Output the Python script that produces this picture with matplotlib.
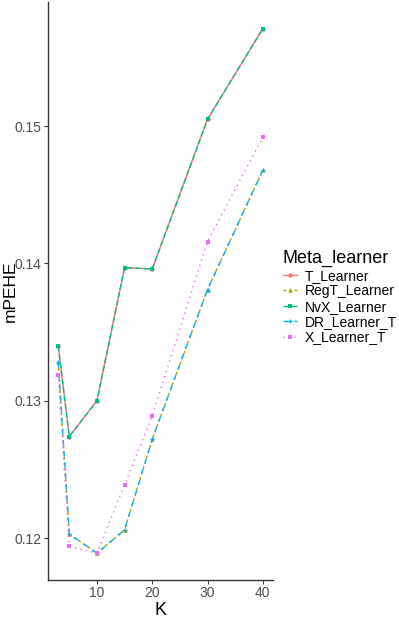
import numpy as np
import matplotlib
matplotlib.use('Agg')
import matplotlib.pyplot as plt

plt.rcParams['font.family'] = ['Liberation Sans', 'DejaVu Sans']

K = [3, 5, 10, 15, 20, 30, 40]
learners = ['T_Learner', 'RegT_Learner', 'NvX_Learner', 'DR_Learner_T', 'X_Learner_T']
t_learner = [0.1340, 0.1274, 0.1300, 0.1397, 0.1396, 0.1505, 0.1571]
regt_learner = [0.1328, 0.1203, 0.1189, 0.1206, 0.1272, 0.1381, 0.1468]
nvx_learner = [0.1340, 0.1274, 0.1300, 0.1397, 0.1396, 0.1505, 0.1571]
dr_learner = [0.1328, 0.1203, 0.1189, 0.1206, 0.1272, 0.1381, 0.1468]
x_learner = [0.1319, 0.1194, 0.1189, 0.1239, 0.1289, 0.1416, 0.1492]
yticks = [0.12, 0.13, 0.14, 0.15]
xticks = [10, 20, 30, 40]

values = [t_learner, regt_learner, nvx_learner, dr_learner, x_learner]
colors = ['#F8766D', '#A3A500', '#00BF7D', '#00B0F6', '#E76BF3']
# ggplot default linetypes / shapes
dashes = [None, (2, 2), (4, 2), (4, 4), (1, 3)]
markers = ['o', '^', 's', '+', 's']

fig = plt.figure(figsize=(3.99, 6.23), dpi=100)
ax = fig.add_axes([0.1203, 0.069, 0.564, 0.928])

handles = []
for name, v, c, d, m in zip(learners, values, colors, dashes, markers):
    ln, = ax.plot(K, v, color=c, lw=1.0, marker=m, markersize=3.2,
                  markeredgewidth=0.9 if m == '+' else 0, label=name)
    if d is not None:
        ln.set_dashes(d)
    handles.append(ln)

ax.set_xlim(1.15, 41.85)
ax.set_ylim(0.11695, 0.15905)
ax.set_xticks(xticks)
ax.set_yticks(yticks)
ax.set_yticklabels(['%.2f' % t for t in yticks], fontsize=10)
ax.set_xticklabels([str(t) for t in xticks], fontsize=10)

for s in ['top', 'right']:
    ax.spines[s].set_visible(False)
for s in ['left', 'bottom']:
    ax.spines[s].set_color('#333333')
    ax.spines[s].set_linewidth(1.0)
ax.tick_params(colors='#333333', labelcolor='#4D4D4D', length=3, pad=1.5)

ax.set_xlabel('K', fontsize=13, labelpad=1)
ax.set_ylabel('mPEHE', fontsize=12.5)
ax.yaxis.set_label_coords(-0.135, 0.5)

leg = ax.legend(handles=handles, title='Meta_learner', loc='center left',
                bbox_to_anchor=(1.0, 0.489), frameon=False, fontsize=10,
                title_fontsize=13, handlelength=1.0, handletextpad=0.6,
                labelspacing=0.1, borderaxespad=0.3)
leg._legend_box.align = 'left'

fig.savefig('out.png', dpi=100)
